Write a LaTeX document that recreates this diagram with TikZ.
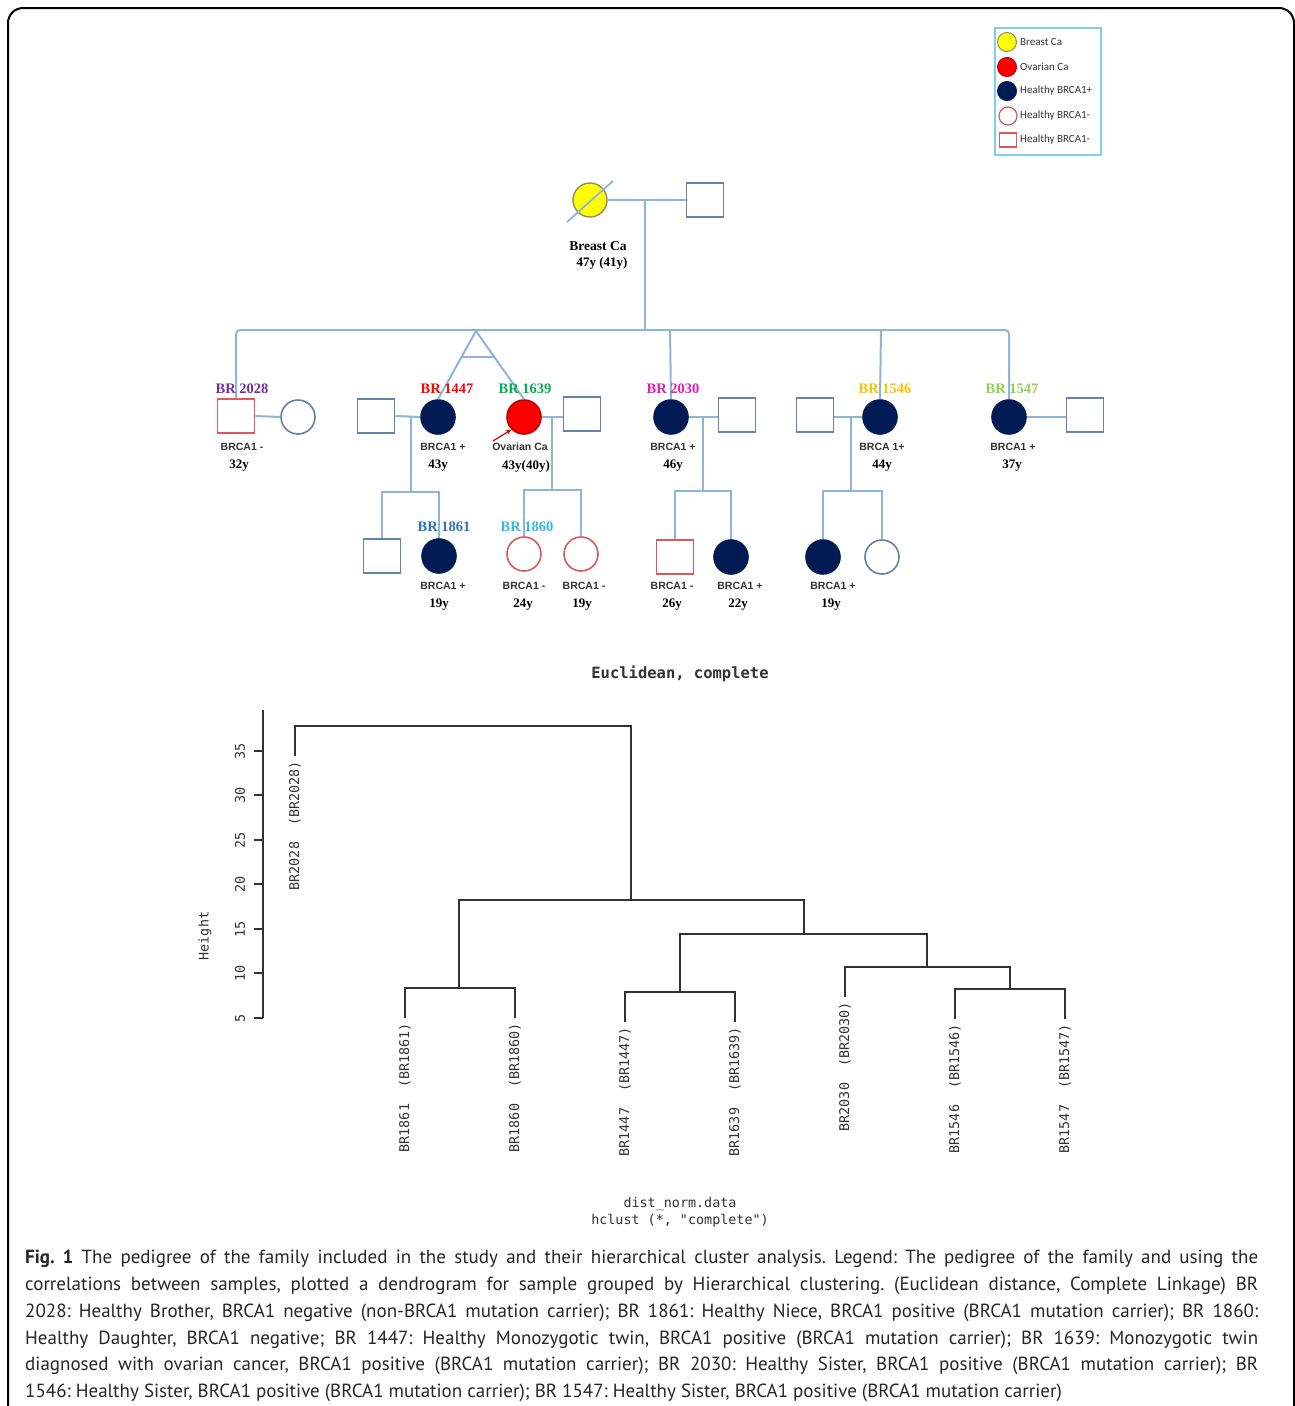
\documentclass[tikz,border=0pt]{standalone}
\usepackage{fontspec}
\setmainfont{Liberation Serif}
\newfontfamily\capfont{PT Sans}
\newfontfamily\lsans{Liberation Sans}
\newfontfamily\legfont{Carlito}
\newfontfamily\dmono{DejaVu Sans Mono}
\usetikzlibrary{calc,arrows.meta}
\definecolor{pedline}{RGB}{143,180,220}
\definecolor{sqc}{RGB}{100,130,170}
\definecolor{navyc}{RGB}{0,26,84}
\definecolor{negred}{RGB}{220,90,90}
\definecolor{ovred}{RGB}{255,0,0}
\definecolor{yelc}{RGB}{255,255,0}
\definecolor{legb}{RGB}{127,208,234}
\definecolor{cpurple}{RGB}{112,48,160}
\definecolor{cgreen}{RGB}{0,176,80}
\definecolor{cmag}{RGB}{230,30,180}
\definecolor{cgold}{RGB}{255,192,0}
\definecolor{cyg}{RGB}{146,208,80}
\definecolor{c1861}{RGB}{46,117,182}
\definecolor{c1860}{RGB}{51,184,232}
\definecolor{dendc}{RGB}{50,50,50}
\tikzset{
  ped/.style={draw=pedline, line width=2pt},
  sqm/.style={rectangle, draw=sqc, line width=1.8pt, fill=white, minimum width=37pt, minimum height=34pt, inner sep=0pt},
  sqneg/.style={sqm, draw=negred},
  circm/.style={circle, draw=sqc, line width=1.6pt, fill=white, minimum size=34pt, inner sep=0pt},
  circpos/.style={circm, draw=navyc, fill=navyc},
  circneg/.style={circm, draw=negred},
  circov/.style={circm, draw=red!75!black, fill=ovred},
  brlbl/.style={font=\fontsize{14.5}{16}\selectfont\bfseries, inner sep=0pt},
  gtlbl/.style={font=\fontsize{10.5}{12}\lsans\bfseries, text=black!80, inner sep=0pt},
  agelbl/.style={font=\fontsize{13}{15}\selectfont\bfseries, inner sep=0pt},
  leglbl/.style={font=\fontsize{11}{12}\legfont, anchor=west, inner sep=0pt, text=black!80},
  dend/.style={draw=dendc, line width=1.5pt},
  leaf/.style={font=\fontsize{13.4}{15}\dmono, text=dendc, rotate=90, anchor=east, inner sep=0pt},
  tickl/.style={font=\fontsize{13.4}{15}\dmono, text=dendc, rotate=90, inner sep=0pt},
  capl/.style={font=\fontsize{19}{27}\capfont\frenchspacing, anchor=base west, inner sep=0pt, text=black!85}
}
\begin{document}
\begin{tikzpicture}[x=1pt,y=-1pt]
\useasboundingbox (0,0) rectangle (1295,1406);
\fill[white] (0,0) rectangle (1295,1406);
% frame
\draw[line width=2pt, rounded corners=15pt] (8,1420) -- (8,8) -- (1294,8) -- (1294,1420);

% legend
\draw[draw=legb, line width=2pt] (995,28) rectangle (1101,155);
\node[circle, draw=gray!70!olive, fill=yelc, line width=1pt, minimum size=19pt, inner sep=0pt] (lg1) at (1007,42) {};
\node[circle, draw=red!75!black, fill=ovred, line width=1pt, minimum size=19pt, inner sep=0pt] (lg2) at (1007,67) {};
\node[circle, draw=navyc, fill=navyc, line width=1pt, minimum size=19pt, inner sep=0pt] (lg3) at (1007,91) {};
\node[circle, draw=negred, fill=white, line width=1.2pt, minimum size=18pt, inner sep=0pt] (lg4) at (1008,116) {};
\node[rectangle, draw=negred, fill=white, line width=1.2pt, minimum width=17pt, minimum height=14pt, inner sep=0pt] (lg5) at (1008,140) {};
\node[leglbl] (lt1) at (1020,42) {Breast Ca};
\node[leglbl] (lt2) at (1020,67) {Ovarian Ca};
\node[leglbl] (lt3) at (1020,91) {Healthy BRCA1+};
\node[leglbl] (lt4) at (1020,116) {Healthy BRCA1-};
\node[leglbl] (lt5) at (1020,140) {Healthy BRCA1-};

% coordinates
\coordinate (mar) at (645,200);
\coordinate (sibj) at (645,330);
\coordinate (apex) at (476,331);
\coordinate (j2030) at (670,330);
\coordinate (j1546) at (881,330);
\coordinate (m1447) at (411,416);
\coordinate (bar1447) at (411,492);
\coordinate (m1639) at (552,416);
\coordinate (bar1639) at (552,490);
\coordinate (m2030) at (703,416);
\coordinate (bar2030) at (703,491);
\coordinate (m1546) at (851,416);
\coordinate (bar1546) at (851,491);

% generation I
\node[circle, draw=gray!70!olive, fill=yelc, line width=1.4pt, minimum size=34pt, inner sep=0pt] (gm) at (590,200) {};
\node[sqm] (gf) at (705,200) {};
% generation II
\node[sqneg] (s2028) at (236,416) {};
\node[circm] (w2028) at (298,417) {};
\node[sqm] (h1447) at (376,416) {};
\node[circpos] (b1447) at (438,417) {};
\node[circov] (b1639) at (524,417) {};
\node[sqm] (h1639) at (582,414) {};
\node[circpos] (b2030) at (671,417) {};
\node[sqm] (h2030) at (737,415) {};
\node[sqm] (h1546) at (815,415) {};
\node[circpos] (b1546) at (880,417) {};
\node[circpos] (b1547) at (1009,417) {};
\node[sqm] (h1547) at (1085,415) {};
% generation III
\node[sqm] (c1) at (382,556) {};
\node[circpos] (b1861) at (439,556) {};
\node[circneg] (b1860) at (524,554) {};
\node[circneg] (c2) at (581,554) {};
\node[sqneg] (c3) at (675,557) {};
\node[circpos] (c4) at (731,557) {};
\node[circpos] (c5) at (823,557) {};
\node[circm] (c6) at (882,557) {};

% pedigree lines
\draw[ped] (gm.east) -- (gf.west);
\draw[ped] (mar) -- (sibj);
\draw[ped, rounded corners=4pt] (s2028.north) |- (sibj) -| (b1547.north);
\draw[ped] (apex) -- (b1447.north);
\draw[ped] (apex) -- (b1639.north);
\draw[ped] ($(apex)!0.377!(b1447.north)$) -- ($(apex)!0.377!(b1639.north)$);
\draw[ped] (j2030) -- (b2030.north);
\draw[ped] (j1546) -- (b1546.north);
\draw[ped] (s2028.east) -- (w2028.west);
\draw[ped] (h1447.east) -- (b1447.west);
\draw[ped] (b1639.east) -- (h1639.west |- b1639.east);
\draw[ped] (b2030.east) -- (h2030.west |- b2030.east);
\draw[ped] (h1546.east |- b1546.west) -- (b1546.west);
\draw[ped] (b1547.east) -- (h1547.west |- b1547.east);
\draw[ped] (m1447) -- (bar1447);
\draw[ped] (c1.north) |- (bar1447) -| (b1861.north);
\draw[ped] (m1639) -- (bar1639);
\draw[ped] (b1860.north) |- (bar1639) -| (c2.north);
\draw[ped] (m2030) -- (bar2030);
\draw[ped] (c3.north) |- (bar2030) -| (c4.north);
\draw[ped] (m1546) -- (bar1546);
\draw[ped] (c5.north) |- (bar1546) -| (c6.north);
% deceased slash
\draw[draw=pedline, line width=1.8pt] ($(gm)+(-23,22)$) -- ($(gm)+(23,-19)$);
% proband arrow
\coordinate (arrs) at (493,441);
\draw[draw=red!85!black, line width=1.2pt, -{Stealth[length=6pt,width=5pt]}] (arrs) -- (b1639.south west);

% labels gen I
\node[font=\fontsize{13.5}{15}\selectfont\bfseries, inner sep=0pt] (gmt1) at (598,246) {Breast Ca};
\node[agelbl] (gmt2) at (602,263) {47y (41y)};
% BR labels
\node[brlbl, text=cpurple] (l2028) at (242,389) {BR 2028};
\node[brlbl, text=ovred] (l1447) at (447,389) {BR 1447};
\node[brlbl, text=cgreen] (l1639) at (525,389) {BR 1639};
\node[brlbl, text=cmag] (l2030) at (673,389) {BR 2030};
\node[brlbl, text=cgold] (l1546) at (885,389) {BR 1546};
\node[brlbl, text=cyg] (l1547) at (1012,389) {BR 1547};
\node[brlbl, text=c1861] (l1861) at (444,527) {BR 1861};
\node[brlbl, text=c1860] (l1860) at (527,527) {BR 1860};
% genotype & age
\node[gtlbl] (g2028) at (242,447) {BRCA1 -};
\node[agelbl] (a2028) at (239,466) {32y};
\node[gtlbl] (g1447) at (443,447) {BRCA1 +};
\node[agelbl] (a1447) at (438,466) {43y};
\node[gtlbl] (g1639) at (520,447) {Ovarian Ca};
\node[agelbl] (a1639) at (526,466) {43y(40y)};
\node[gtlbl] (g2030) at (673,447) {BRCA1 +};
\node[agelbl] (a2030) at (673,466) {46y};
\node[gtlbl] (g1546) at (882,447) {BRCA 1+};
\node[agelbl] (a1546) at (882,466) {44y};
\node[gtlbl] (g1547) at (1013,447) {BRCA1 +};
\node[agelbl] (a1547) at (1012,466) {37y};
\node[gtlbl] (g1861) at (443,586) {BRCA1 +};
\node[agelbl] (a1861) at (439,605) {19y};
\node[gtlbl] (g1860) at (524,586) {BRCA1 -};
\node[agelbl] (a1860) at (523,605) {24y};
\node[gtlbl] (gc2) at (584,586) {BRCA1 -};
\node[agelbl] (ac2) at (582,605) {19y};
\node[gtlbl] (gc3) at (672,586) {BRCA1 -};
\node[agelbl] (ac3) at (672,605) {26y};
\node[gtlbl] (gc4) at (740,586) {BRCA1 +};
\node[agelbl] (ac4) at (738,605) {22y};
\node[gtlbl] (gc5) at (833,586) {BRCA1 +};
\node[agelbl] (ac5) at (831,605) {19y};

% dendrogram
\node[font=\fontsize{15.5}{17}\dmono\bfseries, text=dendc, inner sep=0pt] (dtitle) at (680,674) {Euclidean, complete};
\draw[dend] (263,710) -- (263,1018);
\foreach \v/\yy in {5/1018,10/973,15/929,20/884,25/840,30/795,35/751}{
  \draw[dend] (263,\yy) -- (254,\yy);
  \node[tickl] (tk\v) at (240,\yy) {\v};
}
\node[tickl] (ylab) at (205,936) {Height};
\draw[dend] (295,756) -- (295,726) -- (631,726) -- (631,900);
\draw[dend] (459,988) -- (459,900) -- (804,900) -- (804,934);
\draw[dend] (405,1018) -- (405,988) -- (515,988) -- (515,1018);
\draw[dend] (680,992) -- (680,934) -- (927,934) -- (927,967);
\draw[dend] (625,1022) -- (625,992) -- (735,992) -- (735,1022);
\draw[dend] (845,997) -- (845,967) -- (1010,967) -- (1010,989);
\draw[dend] (955,1019) -- (955,989) -- (1065,989) -- (1065,1019);
\node[leaf] (d2028) at (295,761) {BR2028\ \ (BR2028)};
\node[leaf] (d1861) at (405,1023) {BR1861\ \ (BR1861)};
\node[leaf] (d1860) at (515,1023) {BR1860\ \ (BR1860)};
\node[leaf] (d1447) at (625,1027) {BR1447\ \ (BR1447)};
\node[leaf] (d1639) at (735,1027) {BR1639\ \ (BR1639)};
\node[leaf] (d2030) at (845,1002) {BR2030\ \ (BR2030)};
\node[leaf] (d1546) at (955,1024) {BR1546\ \ (BR1546)};
\node[leaf] (d1547) at (1065,1024) {BR1547\ \ (BR1547)};
\node[font=\fontsize{13.4}{15}\dmono, text=dendc, inner sep=0pt] (xl1) at (680,1204) {dist\_norm.data};
\node[font=\fontsize{13.4}{15}\dmono, text=dendc, inner sep=0pt] (xl2) at (680,1221) {hclust (*, "complete")};

% caption
\node[capl] (cap1) at (25,1263) {\makebox[1233pt][s]{\textbf{Fig. 1} The pedigree of the family included in the study and their hierarchical cluster analysis. Legend: The pedigree of the family and using the}};
\node[capl] (cap2) at (25,1290) {\makebox[1233pt][s]{correlations between samples, plotted a dendrogram for sample grouped by Hierarchical clustering. (Euclidean distance, Complete Linkage) BR}};
\node[capl] (cap3) at (25,1317) {\makebox[1233pt][s]{2028: Healthy Brother, BRCA1 negative (non-BRCA1 mutation carrier); BR 1861: Healthy Niece, BRCA1 positive (BRCA1 mutation carrier); BR 1860:}};
\node[capl] (cap4) at (25,1344) {\makebox[1233pt][s]{Healthy Daughter, BRCA1 negative; BR 1447: Healthy Monozygotic twin, BRCA1 positive (BRCA1 mutation carrier); BR 1639: Monozygotic twin}};
\node[capl] (cap5) at (25,1370) {\makebox[1233pt][s]{diagnosed with ovarian cancer, BRCA1 positive (BRCA1 mutation carrier); BR 2030: Healthy Sister, BRCA1 positive (BRCA1 mutation carrier); BR}};
\node[capl] (cap6) at (25,1397) {1546: Healthy Sister, BRCA1 positive (BRCA1 mutation carrier); BR 1547: Healthy Sister, BRCA1 positive (BRCA1 mutation carrier)};
\end{tikzpicture}
\end{document}
